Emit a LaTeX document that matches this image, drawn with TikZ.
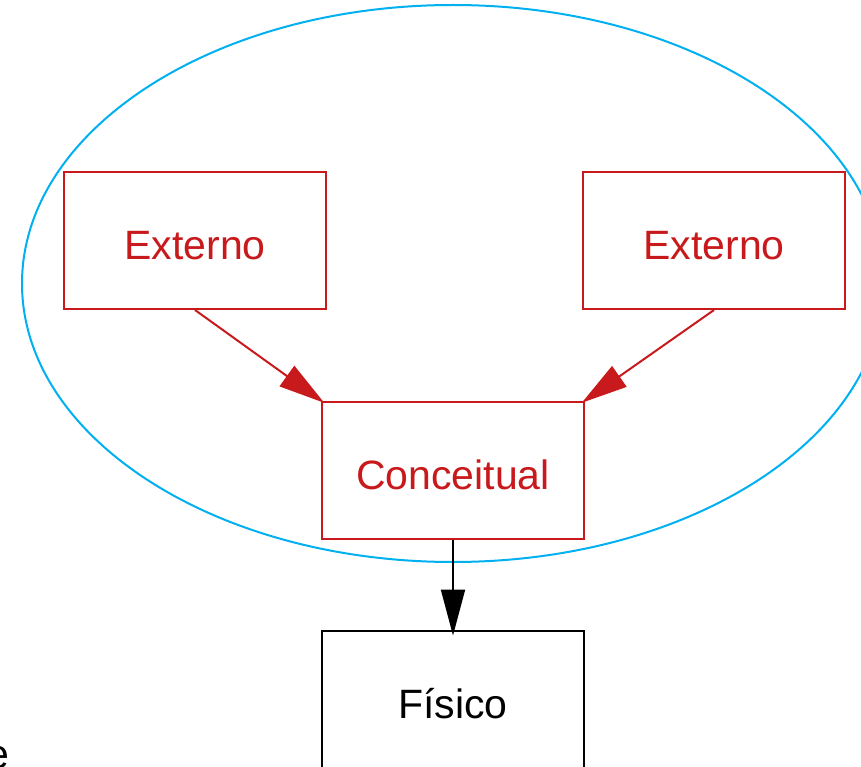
\documentclass[tikz,border=0pt]{standalone}
\usepackage{fontspec}
\setmainfont{Liberation Sans}
\usetikzlibrary{arrows.meta}
\definecolor{boxred}{RGB}{200,26,28}
\definecolor{ellcyan}{RGB}{0,176,240}
\tikzset{
  box/.style={draw, rectangle, line width=2pt, minimum width=262pt, minimum height=137pt, inner sep=0pt, text height=38pt, text depth=0pt, font=\fontsize{41}{45}\selectfont},
  redbox/.style={box, draw=boxred, text=boxred},
  blackbox/.style={box, draw=black, text=black},
  redarrow/.style={draw=boxred, line width=2pt, -{Triangle[length=46pt,width=25pt]}, fill=boxred, shorten >=-4pt},
  blackarrow/.style={draw=black, line width=2pt, -{Triangle[length=46pt,width=24pt]}, shorten >=-6pt},
}
\begin{document}
\begin{tikzpicture}[x=1pt, y=-1pt]
\useasboundingbox (0,0) rectangle (861,767);
\begin{scope}
\clip (0,0) rectangle (861,767);
\draw[ellcyan, line width=2pt] (453,283.5) ellipse [x radius=431, y radius=278.5];
\node[redbox] (ext1) at (195,240.5) {Externo};
\node[redbox] (ext2) at (714,240.5) {Externo};
\node[redbox] (conc) at (453,470) {Conceitual};
\node[blackbox] (fis) at (453,699) {Físico};
\node[anchor=base east, inner sep=0pt, font=\fontsize{41}{45}\selectfont] (frag) at (10,768) {e};
\draw[redarrow] (ext1.south) -- (conc.north west);
\draw[redarrow] (ext2.south) -- (conc.north east);
\draw[blackarrow] (conc.south) -- (fis.north);
\end{scope}
\end{tikzpicture}
\end{document}
